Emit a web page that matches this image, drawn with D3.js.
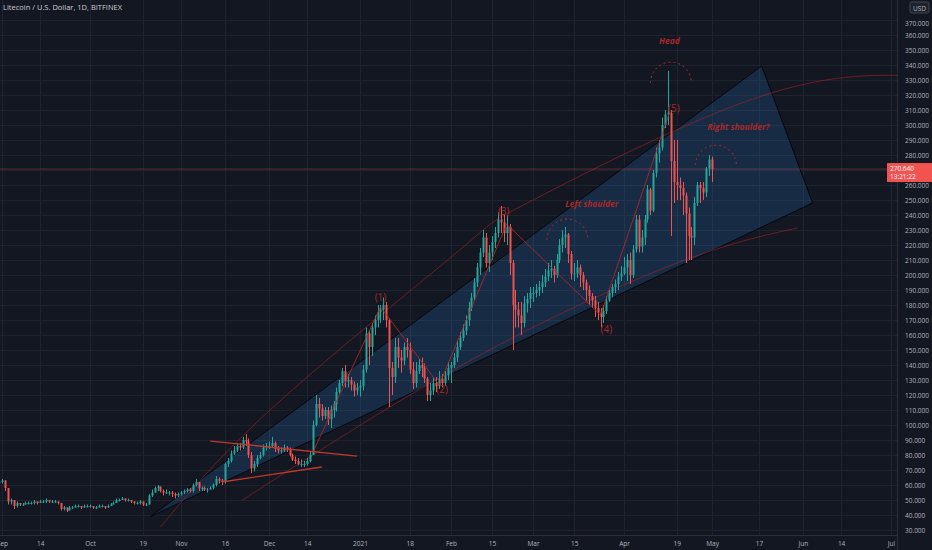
<!DOCTYPE html>
<html><head><meta charset="utf-8">
<script src="https://cdn.jsdelivr.net/npm/d3@7"></script>
<style>html,body{margin:0;padding:0;background:#131722;}svg{display:block;font-family:"Open Sans","Noto Sans",sans-serif;}</style>
</head><body>
<svg id="c" width="932" height="550"></svg>
<script>
// ---- data (daily candles, first day 2020-08-30) ----
const startDate = "2020-08-30";
const closeSep = [62,62,63,58,49,50,46,48,47,47,48,48,48,49,48,49,49,50,49,49,49,48,44,45,43,45,45,46,46,45,46,46];
const highSep  = [64,63,64,63,58,51,50,49,48,48,49,49,49,50,49,50,50,51,50,50,50,49,48,46,45,46,46,47,47,46,47,47];
const lowSep   = [61,61,61,56,47,47,44,45,46,46,47,47,47,47,47,48,48,48,48,48,48,47,43,43,42,43,44,45,45,44,45,45];
const closeOct = [46,45,45,46,46,45,46,47,48,50,50,51,50,50,49,48,48,49,47,47,53,55,58,59,56,55,55,55,54,53,54];
const highOct  = [47,46,46,47,47,46,47,48,49,51,51,52,51,51,50,49,49,50,49,48,54,57,59,60,59,57,57,56,56,55,55];
const lowOct   = [45,44,44,45,45,44,45,46,47,48,49,50,49,49,48,47,47,47,46,46,47,52,55,56,55,53,54,53,52,51,52];
const closeNov = [55,56,57,56,60,62,58,58,57,57,58,60,64,63,62,74,76,81,83,86,85,90,89,80,71,74,78,80,85,86];
const highNov  = [56,57,58,58,61,64,62,59,59,58,59,61,66,65,64,75,78,83,86,88,88,92,94,91,82,76,80,82,87,88];
const lowNov   = [53,54,55,55,55,59,56,56,56,55,57,57,59,61,60,61,72,75,80,82,83,84,86,78,68,69,72,77,79,83];
const closeDec = [86,88,84,83,83,85,84,80,77,76,74,74,74,76,80,100,114,111,106,110,104,110,114,122,128,136,129,130,127,123,125];
const highDec  = [89,92,89,86,85,87,86,85,81,79,78,77,76,78,82,103,120,118,114,112,112,113,116,125,130,138,140,134,132,129,128];
const lowDec   = [84,85,82,81,81,82,82,79,76,74,73,72,72,73,75,80,99,105,103,104,100,98,105,109,121,126,125,125,123,119,120];
const closeJan = [126,137,161,152,165,170,175,177,180,170,138,132,152,145,143,152,150,137,128,136,140,138,131,120,123,128,126,131,128,133,138];
const highJan  = [130,140,165,163,168,173,180,180,185,182,171,142,158,158,150,155,158,155,142,142,144,145,141,132,128,132,132,136,134,136,142];
const lowJan   = [119,123,135,140,146,160,165,168,170,165,112,120,128,138,135,140,145,134,124,125,134,132,128,116,116,120,122,124,125,126,130];
const closeFeb = [140,145,152,158,163,170,178,185,195,205,215,225,208,215,222,228,237,235,228,232,208,180,177,173,168,181,184,188];
const highFeb  = [142,148,156,162,167,173,182,188,198,208,218,230,228,220,226,232,242,246,240,240,234,210,190,182,182,186,188,192];
const lowFeb   = [128,138,142,150,156,160,166,176,183,192,200,212,205,202,210,218,225,228,222,220,200,150,165,165,160,165,175,178];
const closeMar = [188,190,192,195,199,203,204,200,210,220,225,227,214,201,201,205,200,195,190,186,183,178,175,172,176,183,188,192,194,199,201];
const highMar  = [192,194,196,200,204,208,210,206,214,224,230,232,228,216,208,210,207,202,197,193,188,186,182,178,180,186,190,194,197,202,206];
const lowMar   = [182,185,186,188,192,196,198,195,198,208,215,218,208,197,196,198,192,190,183,180,178,172,170,165,168,174,182,185,188,190,196];
const closeApr = [205,210,200,217,237,219,225,237,257,243,268,281,285,300,307,308,276,262,260,258,253,241,226,225,248,260,258,255,271,277];
const highApr  = [212,214,215,220,240,240,230,240,260,258,270,285,290,305,310,336,310,290,290,265,262,255,245,232,252,262,262,262,272,280];
const lowApr   = [200,196,194,198,215,215,215,220,235,240,242,265,275,283,298,300,226,248,250,250,240,208,210,210,220,246,248,250,252,266];
const closeMay = [270.64];
const highMay  = [279];
const lowMay   = [262];
const firstOpen = 61;
const lastPrice = 270.64, lastTime = "13:21:22";

const yTicks = d3.range(30, 371, 10);
const xTickDates = ["2020-09-01","2020-09-14","2020-10-01","2020-10-19","2020-11-01","2020-11-16","2020-12-01","2020-12-14","2021-01-01","2021-01-18","2021-02-01","2021-02-15","2021-03-01","2021-03-15","2021-04-01","2021-04-19","2021-05-01","2021-05-17","2021-06-01","2021-06-14","2021-07-01"];
const xTickLabels = ["Sep","14","Oct","19","Nov","16","Dec","14","2021","18","Feb","15","Mar","15","Apr","19","May","17","Jun","14","Jul"];

// drawings (date, price)
const wedge = [["2020-10-21T10:00",38.7],["2021-05-17T22:00",339.3],["2021-06-04T07:00",248]];
const upperArc = [["2020-10-25",32],["2020-12-04",114.7],["2021-02-04",216.7],["2021-03-01",250],["2021-05-17",318.7],["2021-07-15",332]];
const lowerArc = [["2020-11-22",50],["2020-12-24",90],["2021-02-17",153],["2021-04-20",208.7],["2021-05-30",231.3]];
const waveLine = [["2020-12-16",82],["2021-01-08",178.7],["2021-01-28",126.7],["2021-02-20",234],["2021-03-24",173.3],["2021-04-16T14:00",308.7]];
const triUpper = [["2020-11-11",89.3],["2020-12-31",79.3]];
const triLower = [["2020-11-15",62],["2020-12-19",72]];
const waveLabels = [["(1)","2021-01-08",184.7],["(2)","2021-01-29",123],["(3)","2021-02-19",242],["(4)","2021-03-26",163.3],["(5)","2021-04-18",310.7]];
const noteLabels = [["Head","2021-04-16T12:00",355.3],["Left shoulder","2021-03-21",246.7],["Right shoulder?","2021-05-10",298]];
const arcs = [["2021-04-17",328,7,14],["2021-03-12T18:00",223.3,7,14],["2021-05-02T08:00",273.3,7,13.3]];

// ---- build candles ----
const months = [[closeSep,highSep,lowSep],[closeOct,highOct,lowOct],[closeNov,highNov,lowNov],[closeDec,highDec,lowDec],[closeJan,highJan,lowJan],[closeFeb,highFeb,lowFeb],[closeMar,highMar,lowMar],[closeApr,highApr,lowApr],[closeMay,highMay,lowMay]];
const candles = [];
let prev = firstOpen, di = 0;
const d0 = new Date(startDate + "T00:00:00Z");
months.forEach(([cs,hs,ls]) => cs.forEach((c,i) => {
  const o = prev;
  const h = Math.max(hs[i] ?? c, o, c), l = Math.min(ls[i] ?? c, o, c);
  candles.push({date: d3.utcDay.offset(d0, di++), o, c, h, l});
  prev = c;
}));

const W = 932, H = 550, plotR = 897, plotB = 535;
const pd = s => new Date(s.length > 10 ? s + ":00Z" : s + "T00:00:00Z");
const x = d3.scaleUtc().domain([pd("2020-09-01"), pd("2021-07-01")]).range([2, 891]);
const y = d3.scaleLinear().domain([30, 370]).range([530, 20]);
const svg = d3.select("#c");
svg.append("rect").attr("width", W).attr("height", H).attr("fill", "#131722");
svg.append("clipPath").attr("id","clip").append("rect").attr("width", plotR).attr("height", plotB);
const g = svg.append("g").attr("clip-path","url(#clip)");

// grid
g.selectAll(".hg").data(yTicks).join("line").attr("x1",0).attr("x2",plotR).attr("y1",d=>y(d)+0.5).attr("y2",d=>y(d)+0.5).attr("stroke","#1f2330");
g.selectAll(".vg").data(xTickDates).join("line").attr("y1",0).attr("y2",plotB).attr("x1",d=>Math.round(x(pd(d)))+0.5).attr("x2",d=>Math.round(x(pd(d)))+0.5).attr("stroke","#1f2330");

const pt = p => [x(pd(p[0])), y(p[1])];
const red = "#b22a2a";
// wedge
g.append("path").attr("d", d3.line()(wedge.map(pt)) + "Z").attr("fill","rgba(41,120,190,0.22)").attr("stroke","#05070a").attr("stroke-width",1);
// arcs lines
g.append("path").attr("d", d3.line().curve(d3.curveNatural)(upperArc.map(pt))).attr("fill","none").attr("stroke","rgba(178,34,34,0.55)").attr("stroke-width",1);
g.append("path").attr("d", d3.line().curve(d3.curveNatural)(lowerArc.map(pt))).attr("fill","none").attr("stroke","rgba(178,34,34,0.55)").attr("stroke-width",1);

// price line
g.append("line").attr("x1",0).attr("x2",plotR).attr("y1",y(lastPrice)).attr("y2",y(lastPrice)).attr("stroke","rgba(239,83,80,0.35)").attr("stroke-width",1);

// candles
const bw = 2;
const cg = g.append("g");
cg.selectAll("line").data(candles).join("line")
  .attr("x1",d=>Math.round(x(d.date))+0.5).attr("x2",d=>Math.round(x(d.date))+0.5)
  .attr("y1",d=>y(d.h)).attr("y2",d=>y(d.l))
  .attr("stroke",d=>d.c>=d.o?"#26a69a":"#ef5350");
cg.selectAll("rect").data(candles).join("rect")
  .attr("x",d=>Math.round(x(d.date))-0.5).attr("width",bw)
  .attr("y",d=>y(Math.max(d.o,d.c))).attr("height",d=>Math.max(1,Math.abs(y(d.o)-y(d.c))))
  .attr("fill",d=>d.c>=d.o?"#26a69a":"#ef5350");

// wave zigzag
g.append("path").attr("d", d3.line()(waveLine.map(pt))).attr("fill","none").attr("stroke","rgba(190,40,40,0.8)").attr("stroke-width",1);
g.append("path").attr("d", d3.line()(triUpper.map(pt))).attr("stroke","#c0392b").attr("stroke-width",1.3);
g.append("path").attr("d", d3.line()(triLower.map(pt))).attr("stroke","#c0392b").attr("stroke-width",1.3);

// dashed arcs
arcs.forEach(([cd,cp,hw,hh]) => {
  const c = pd(cd);
  const pts = d3.range(0, 181, 10).map(a => {
    const r = a*Math.PI/180;
    return [x(d3.utcHour.offset(c, -Math.cos(r)*hw*24)), y(cp + Math.sin(r)*hh)];
  });
  g.append("path").attr("d", d3.line().curve(d3.curveBasis)(pts)).attr("fill","none").attr("stroke","#b22a2a").attr("stroke-width",1).attr("stroke-dasharray","2,3");
});

g.selectAll(".wl").data(waveLabels).join("text").attr("x",d=>x(pd(d[1]))).attr("y",d=>y(d[2])).attr("text-anchor","middle").attr("dominant-baseline","middle").attr("fill","#a82828").attr("font-size",10).text(d=>d[0]);
g.selectAll(".nl").data(noteLabels).join("text").attr("x",d=>x(pd(d[1]))).attr("y",d=>y(d[2])).attr("text-anchor","middle").attr("dominant-baseline","middle").attr("fill","#a82828").attr("font-size",8.5).attr("font-style","italic").attr("font-weight","bold").text(d=>d[0]);

// title
svg.append("text").attr("x",3).attr("y",10).attr("fill","#c9ccd4").attr("font-size",7.5).text("Litecoin / U.S. Dollar, 1D, BITFINEX");

// right axis
svg.append("line").attr("x1",plotR+0.5).attr("x2",plotR+0.5).attr("y1",0).attr("y2",H).attr("stroke","#2a2e39");
svg.append("line").attr("x1",0).attr("x2",plotR).attr("y1",plotB+0.5).attr("y2",plotB+0.5).attr("stroke","#2a2e39");
const yAxis = d3.axisRight(y).tickValues(yTicks.filter(v=>v<=370 && v!==270)).tickSize(0).tickPadding(8).tickFormat(d3.format(".3f"));
const ya = svg.append("g").attr("transform",`translate(${plotR},0)`).call(yAxis);
ya.select(".domain").remove();
ya.selectAll("text").attr("fill","#b2b5be").attr("font-size",6.5).attr("font-family","Open Sans, sans-serif");
ya.selectAll(".tick").filter(d=>d===370).select("text").attr("dy","0.9em");
// currency tag
svg.append("rect").attr("x",910).attr("y",2).attr("width",19).attr("height",11).attr("rx",2).attr("fill","#1e222d").attr("stroke","#434651");
svg.append("text").attr("x",919.5).attr("y",10.5).attr("text-anchor","middle").attr("fill","#b2b5be").attr("font-size",6.5).text("USD");
// last price tag
svg.append("rect").attr("x",plotR-10).attr("y",y(lastPrice)-6).attr("width",45).attr("height",19).attr("fill","#f05350");
svg.append("text").attr("x",plotR-7).attr("y",y(lastPrice)+2).attr("fill","#fff").attr("font-size",6.5).text(lastPrice.toFixed(3));
svg.append("text").attr("x",plotR-7).attr("y",y(lastPrice)+10).attr("fill","#fff").attr("font-size",6.5).text(lastTime);

// bottom axis
const xAxis = d3.axisBottom(x).tickValues(xTickDates.map(pd)).tickSize(0).tickPadding(6).tickFormat((d,i)=>xTickLabels[i]);
const xa = svg.append("g").attr("transform",`translate(0,${plotB})`).call(xAxis);
xa.select(".domain").remove();
xa.selectAll("text").attr("fill","#b2b5be").attr("font-size",6.5).attr("font-family","Open Sans, sans-serif");
</script>
</body></html>
